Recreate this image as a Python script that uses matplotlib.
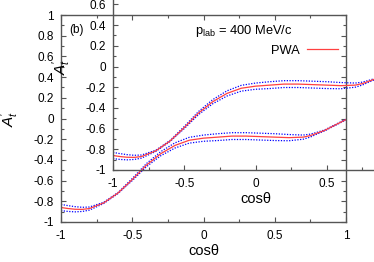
import matplotlib.pyplot as plt
from matplotlib.ticker import MultipleLocator

plt.rcParams['font.family'] = ['Liberation Sans', 'DejaVu Sans']
plt.rcParams['mathtext.fontset'] = 'custom'
plt.rcParams['mathtext.rm'] = 'Liberation Sans'
plt.rcParams['mathtext.it'] = 'Liberation Sans:italic'

# PWA curve (central value and error band half width)
cos_theta = [-1.0, -0.95, -0.9, -0.85, -0.8, -0.7, -0.6, -0.5, -0.4, -0.3, -0.2, -0.1,
             0.0, 0.1, 0.2, 0.3, 0.4, 0.5, 0.6, 0.7, 0.75, 0.8, 0.85, 0.9, 0.95, 1.0]
at_prime = [-0.86, -0.87, -0.877, -0.878, -0.87, -0.815, -0.72, -0.59, -0.45, -0.34, -0.26, -0.21,
            -0.19, -0.18, -0.17, -0.17, -0.175, -0.18, -0.185, -0.18, -0.165, -0.14, -0.115, -0.08, -0.045, -0.01]
err = [0.03, 0.028, 0.025, 0.02, 0.015, 0.006, 0.005, 0.01, 0.015, 0.02, 0.025, 0.028,
       0.03, 0.033, 0.033, 0.033, 0.033, 0.033, 0.03, 0.02, 0.014, 0.008, 0.005, 0.004, 0.004, 0.004]

upper = [v + e for v, e in zip(at_prime, err)]
lower = [v - e for v, e in zip(at_prime, err)]

x_ticks = [-1, -0.5, 0, 0.5, 1]
x_tick_labels = ['-1', '-0.5', '0', '0.5', '1']
y_ticks = [-1, -0.8, -0.6, -0.4, -0.2, 0, 0.2, 0.4, 0.6, 0.8, 1]
y_tick_labels = ['-1', '-0.8', '-0.6', '-0.4', '-0.2', '0', '0.2', '0.4', '0.6', '0.8', '1']

W, H = 374, 262
fig = plt.figure(figsize=(W / 100, H / 100), dpi=100)


def draw(ax, with_key=True):
    ax.plot(cos_theta, upper, color='blue', ls=(0, (1, 1.2)), lw=0.9)
    ax.plot(cos_theta, lower, color='blue', ls=(0, (1, 1.2)), lw=0.9)
    ax.plot(cos_theta, at_prime, color='#ff4040', lw=0.9, label='PWA')
    ax.set_xlim(-1, 1)
    ax.set_ylim(-1, 1)
    ax.set_xticks(x_ticks)
    ax.set_xticklabels(x_tick_labels)
    ax.set_yticks(y_ticks)
    ax.set_yticklabels(y_tick_labels)
    ax.xaxis.set_minor_locator(MultipleLocator(0.25))
    ax.yaxis.set_minor_locator(MultipleLocator(0.1))
    ax.tick_params(which='both', direction='in', top=True, right=True,
                   color='#555555', labelsize=8.5)
    ax.tick_params(which='major', length=3.5, width=0.8)
    ax.tick_params(which='minor', length=2, width=0.8)
    ax.tick_params(axis='x', pad=6)
    ax.tick_params(axis='y', pad=5)
    for s in ax.spines.values():
        s.set_color('#555555')
        s.set_linewidth(1.0)
    ax.set_xlabel('cosθ', fontsize=10.5, labelpad=1)
    ax.set_ylabel(r"$A_t^{\prime}$", fontsize=11, labelpad=9)
    if with_key:
        ax.text(0.03, 0.955, '(b)', transform=ax.transAxes, fontsize=8.5, va='top')
        ax.text(0.814, 0.923, r'p$_{\rm lab}$ = 400 MeV/c', transform=ax.transAxes,
                fontsize=9.3, ha='right', va='center')
        ax.legend(loc='upper right', bbox_to_anchor=(1.0, 0.895), frameon=False,
                  markerfirst=False, fontsize=9.3, handlelength=2.4, handletextpad=0.6,
                  borderaxespad=0.2)


ax1 = fig.add_axes([61 / W, 40 / H, 285 / W, 207 / H])
draw(ax1)
# shifted duplicate of the same panel, drawn see-through on top
ax2 = fig.add_axes([113 / W, 92 / H, 285 / W, 207 / H])
ax2.patch.set_alpha(0)
draw(ax2, with_key=False)

fig.savefig('out.png', dpi=100)
